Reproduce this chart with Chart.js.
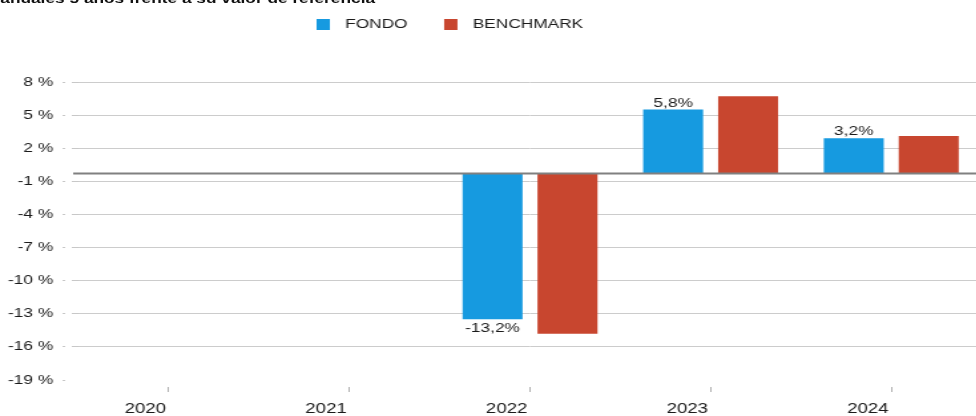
<!DOCTYPE html>
<html>
<head>
<meta charset="utf-8">
<script src="https://cdn.jsdelivr.net/npm/chart.js"></script>
<style>
  html, body { margin: 0; padding: 0; background: #fff; overflow: hidden; width: 976px; height: 416px; }
  /* the reference looks horizontally stretched, so draw narrow and stretch */
  #wrap { position: absolute; left: 0; top: 0; width: 738px; height: 416px; transform: scaleX(1.33); transform-origin: 0 0; }
  #title { position: absolute; right: 456px; top: -8px; font: bold 13px "Liberation Sans", Arial, sans-serif; color: #111; white-space: nowrap; line-height: 13px; }
</style>
</head>
<body>
<div id="wrap">
  <div id="title">Rentabilidades anuales 5 años frente a su valor de referencia</div>
  <canvas id="chart"></canvas>
</div>
<script>
const years = ["2020", "2021", "2022", "2023", "2024"];
const fondo = [null, null, -13.2, 5.8, 3.2];
const benchmark = [null, null, -14.5, 7.0, 3.4];
const seriesNames = ["FONDO", "BENCHMARK"];
// tick positions as seen on the axis (labels get rounded)
const yTicks = [-18.7, -15.7, -12.7, -9.7, -6.7, -3.7, -0.7, 2.3, 5.3, 8.3];

const FONT = '"Liberation Sans", Arial, sans-serif';
Chart.defaults.font.family = FONT;

function pct(v) {
  return v.toFixed(1).replace(".", ",") + "%";
}

// legend drawn by hand so the spacing matches
const legendBoxes = {
  id: "legendBoxes",
  afterDraw(chart) {
    const ctx = chart.ctx;
    ctx.save();
    ctx.font = "13px " + FONT;
    ctx.textBaseline = "middle";
    let x = 238;
    chart.data.datasets.forEach(ds => {
      ctx.fillStyle = ds.backgroundColor;
      ctx.fillRect(x, 19, 10, 11);
      ctx.fillStyle = "#1a1a1a";
      ctx.fillText(ds.label, x + 21.5, 24.5);
      x += 21.5 + ctx.measureText(ds.label).width + 27.5;
    });
    ctx.restore();
  }
};

const zeroLine = {
  id: "zeroLine",
  afterDatasetsDraw(chart) {
    const ctx = chart.ctx;
    const y = chart.scales.y.getPixelForValue(0);
    ctx.save();
    ctx.strokeStyle = "#808080";
    ctx.lineWidth = 2;
    ctx.beginPath();
    ctx.moveTo(chart.chartArea.left - 4, y);
    ctx.lineTo(chart.width, y);
    ctx.stroke();
    ctx.restore();
  }
};

// value labels only on the FONDO bars
const barLabels = {
  id: "barLabels",
  afterDatasetsDraw(chart) {
    const ctx = chart.ctx;
    const meta = chart.getDatasetMeta(0);
    ctx.save();
    ctx.font = "13px " + FONT;
    ctx.fillStyle = "#1a1a1a";
    ctx.textAlign = "center";
    ctx.textBaseline = "alphabetic";
    meta.data.forEach((bar, i) => {
      const v = fondo[i];
      if (v == null) return;
      ctx.fillText(pct(v), bar.x, v >= 0 ? bar.y - 3 : bar.y + 12.5);
    });
    ctx.restore();
  }
};

new Chart(document.getElementById("chart"), {
  type: "bar",
  data: {
    labels: years,
    datasets: [
      { label: seriesNames[0], data: fondo, backgroundColor: "#169ae0", barPercentage: 0.8, categoryPercentage: 0.83 },
      { label: seriesNames[1], data: benchmark, backgroundColor: "#c8462f", barPercentage: 0.8, categoryPercentage: 0.83 }
    ]
  },
  options: {
    responsive: true,
    maintainAspectRatio: false,
    animation: false,
    layout: { padding: { top: 82, left: 0, right: 0, bottom: 0 } },
    plugins: { legend: { display: false }, tooltip: { enabled: false } },
    scales: {
      x: {
        grid: { offset: false, drawOnChartArea: false, tickLength: 12, tickColor: "#b0b0b0", tickBorderDash: [0, 7, 5, 0] },
        border: { display: false },
        ticks: { align: "end", labelOffset: -2, padding: 9, color: "#1a1a1a", font: { size: 14 }, maxRotation: 0 },
        afterFit: s => { s.height = 36; }
      },
      y: {
        min: -18.7,
        max: 8.3,
        afterBuildTicks: s => { s.ticks = yTicks.map(v => ({ value: v })); },
        afterFit: s => { s.width = 59; },
        grid: {
          color: c => c.index === 0 ? "rgba(0,0,0,0)" : "#cccccc",
          tickLength: 12,
          tickColor: "#c8c8c8",
          tickBorderDash: c => c.index === 0 ? [2, 100] : [2, 5, 5, 0]
        },
        border: { display: false },
        ticks: { padding: 7, color: "#1a1a1a", font: { size: 13 }, callback: v => Math.round(v) + " %" }
      }
    }
  },
  plugins: [legendBoxes, zeroLine, barLabels]
});
</script>
</body>
</html>
